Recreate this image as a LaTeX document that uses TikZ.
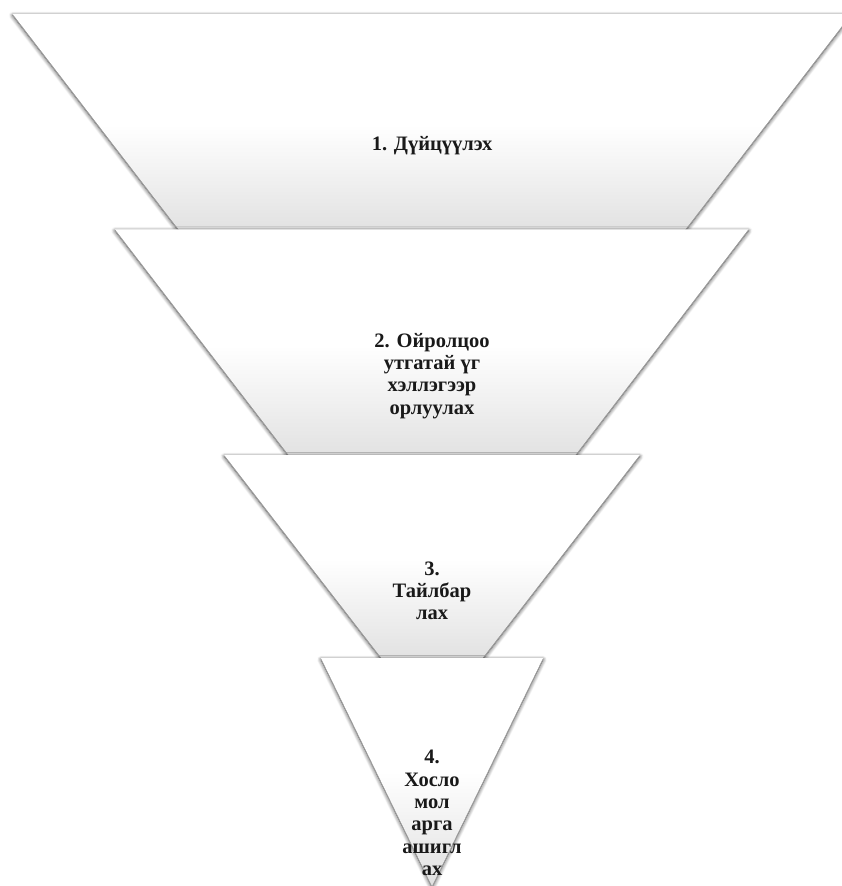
\documentclass[tikz,border=0pt]{standalone}
\usepackage{fontspec}
\setmainfont{Liberation Serif}
\usetikzlibrary{shadows.blur}

\begin{document}
\begin{tikzpicture}[
		x=1pt, y=-1pt,
		funnel/.style = {top color=white, bottom color=black!12, middle color=white,
			blur shadow={shadow xshift=0pt, shadow yshift=-1.5pt, shadow blur radius=4pt, shadow blur steps=8, shadow opacity=75}},
		steptext/.style = {align=center, text=black!90, font=\bfseries\fontsize{20.5}{22.3}\selectfont}
	]
	\useasboundingbox (0,0) rectangle (841,886);
	% Draw the funnel layers, top one first.
	\path[funnel] (12.7,14) -- (851.3,14) -- (681.1,235) -- (182.9,235) -- cycle;
	\path[funnel] (115,229.3) -- (748.4,229.3) -- (570.8,461) -- (293.2,461) -- cycle;
	\path[funnel] (224.3,455) -- (639.7,455) -- (478.7,663) -- (385.3,663) -- cycle;
	\path[funnel] (321,658) -- (543,658) -- (432,886) -- cycle;
	% Draw the step texts.
	\node[steptext] (s1) at (432,146) {1. Дүйцүүлэх};
	\node[steptext] (s2) at (432,376) {2. Ойролцоо\\утгатай үг\\хэллэгээр\\орлуулах};
	\node[steptext] (s3) at (432,591) {3.\\Тайлбар\\лах};
	\node[steptext] (s4) at (432,813) {4.\\Хосло\\мол\\арга\\ашигл\\ах};
\end{tikzpicture}
\end{document}
